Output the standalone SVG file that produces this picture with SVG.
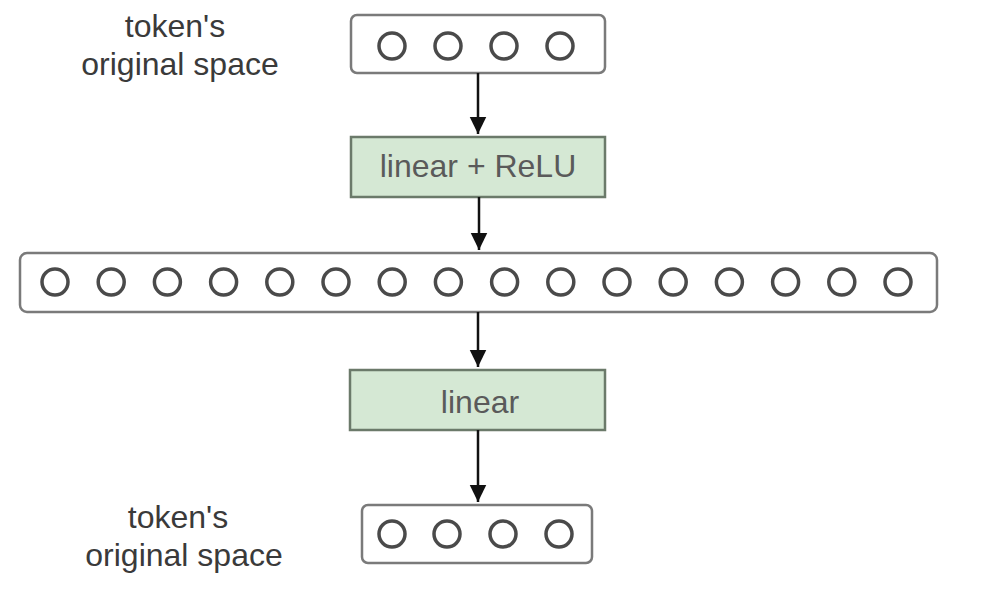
<svg xmlns="http://www.w3.org/2000/svg" width="985" height="592" viewBox="0 0 985 592">
<style>
.vec{fill:#fff;stroke:#7a7a7a;stroke-width:2.5}
.op{fill:#d5e8d4;stroke:#6b7a6a;stroke-width:2.5}
.c{fill:none;stroke:#4a4a4a;stroke-width:3.5}
.lbl{font-family:"Liberation Sans",Arial,sans-serif;font-size:32px;fill:#3a3a3a;text-anchor:middle}
.opt{font-family:"Liberation Sans",Arial,sans-serif;font-size:32px;fill:#5a5a5a;text-anchor:middle}
.edge{stroke:#111;stroke-width:2.5;fill:none;marker-end:url(#ah)}
</style>
<defs>
<marker id="ah" markerWidth="8" markerHeight="8" refX="7" refY="4" orient="auto" markerUnits="strokeWidth">
<path d="M0,0.6 L7,4 L0,7.4 Z" fill="#111"/>
</marker>
</defs>
<g id="label-top">
<text class="lbl" x="175" y="37">token's</text>
<text class="lbl" x="180" y="75">original space</text>
</g>
<g id="input-vector">
<rect class="vec" x="351" y="15" width="254" height="58" rx="6"/>
<circle class="c" cx="392" cy="46" r="13"/>
<circle class="c" cx="448" cy="46" r="13"/>
<circle class="c" cx="504" cy="46" r="13"/>
<circle class="c" cx="560" cy="46" r="13"/>
</g>
<g id="linear-relu">
<rect class="op" x="351" y="137" width="254" height="60"/>
<text class="opt" x="478" y="177">linear + ReLU</text>
</g>
<g id="hidden-vector">
<rect class="vec" x="20" y="253" width="917" height="59" rx="7"/>
<circle class="c" cx="55" cy="282" r="13"/>
<circle class="c" cx="111.2" cy="282" r="13"/>
<circle class="c" cx="167.4" cy="282" r="13"/>
<circle class="c" cx="223.6" cy="282" r="13"/>
<circle class="c" cx="279.8" cy="282" r="13"/>
<circle class="c" cx="336" cy="282" r="13"/>
<circle class="c" cx="392.2" cy="282" r="13"/>
<circle class="c" cx="448.4" cy="282" r="13"/>
<circle class="c" cx="504.6" cy="282" r="13"/>
<circle class="c" cx="560.8" cy="282" r="13"/>
<circle class="c" cx="617" cy="282" r="13"/>
<circle class="c" cx="673.2" cy="282" r="13"/>
<circle class="c" cx="729.4" cy="282" r="13"/>
<circle class="c" cx="785.6" cy="282" r="13"/>
<circle class="c" cx="841.8" cy="282" r="13"/>
<circle class="c" cx="898" cy="282" r="13"/>
</g>
<g id="linear">
<rect class="op" x="350" y="370" width="255" height="60"/>
<text class="opt" x="480" y="413">linear</text>
</g>
<g id="label-bottom">
<text class="lbl" x="178" y="528">token's</text>
<text class="lbl" x="184" y="566">original space</text>
</g>
<g id="output-vector">
<rect class="vec" x="362" y="505" width="230" height="58" rx="6"/>
<circle class="c" cx="392" cy="534" r="13"/>
<circle class="c" cx="447" cy="534" r="13"/>
<circle class="c" cx="503" cy="534" r="13"/>
<circle class="c" cx="559" cy="534" r="13"/>
</g>
<g id="connectors">
<line class="edge" x1="478" y1="73" x2="478" y2="134"/>
<line class="edge" x1="479" y1="197" x2="479" y2="250"/>
<line class="edge" x1="478" y1="312" x2="478" y2="367"/>
<line class="edge" x1="478" y1="430" x2="478" y2="502"/>
</g>
</svg>
